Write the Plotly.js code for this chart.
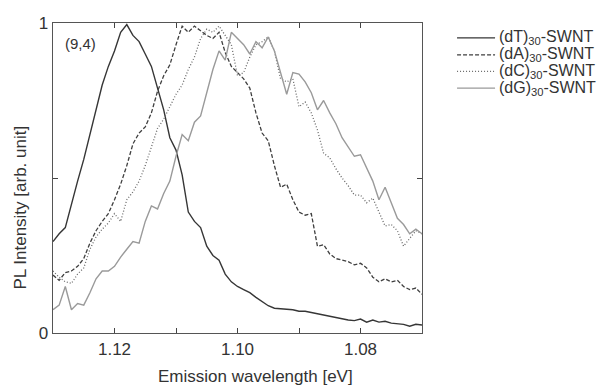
<!DOCTYPE html>
<html>
<head>
<meta charset="utf-8">
<script src="https://cdn.plot.ly/plotly-3.0.1.min.js"></script>
<style>html,body{margin:0;padding:0;background:#fff;}#chart{width:597px;height:385px;}</style>
</head>
<body>
<div id="chart"></div>
<script>
// Emission energy grid (eV), from 1.130 down to 1.070 in 0.001 steps
var energy = [1.130,1.129,1.128,1.127,1.126,1.125,1.124,1.123,1.122,1.121,
              1.120,1.119,1.118,1.117,1.116,1.115,1.114,1.113,1.112,1.111,
              1.110,1.109,1.108,1.107,1.106,1.105,1.104,1.103,1.102,1.101,
              1.100,1.099,1.098,1.097,1.096,1.095,1.094,1.093,1.092,1.091,
              1.090,1.089,1.088,1.087,1.086,1.085,1.084,1.083,1.082,1.081,
              1.080,1.079,1.078,1.077,1.076,1.075,1.074,1.073,1.072,1.071,1.070];

var dT = [0.295,0.32,0.34,0.42,0.49,0.56,0.64,0.72,0.80,0.86,
          0.91,0.97,0.995,0.96,0.94,0.90,0.86,0.79,0.72,0.63,
          0.59,0.51,0.39,0.36,0.34,0.28,0.25,0.235,0.19,0.165,
          0.15,0.14,0.13,0.115,0.10,0.088,0.08,0.078,0.077,0.075,
          0.07,0.07,0.066,0.062,0.056,0.052,0.05,0.045,0.042,0.04,
          0.045,0.035,0.042,0.035,0.038,0.032,0.03,0.028,0.022,0.028,0.026];

var dA = [0.187,0.17,0.195,0.20,0.215,0.24,0.29,0.33,0.36,0.385,
          0.43,0.48,0.54,0.61,0.645,0.665,0.71,0.78,0.83,0.865,
          0.93,0.99,0.97,0.99,0.975,0.96,0.95,0.97,0.905,0.86,
          0.84,0.82,0.79,0.71,0.645,0.62,0.54,0.47,0.48,0.43,
          0.39,0.38,0.385,0.28,0.285,0.255,0.24,0.235,0.23,0.22,
          0.225,0.21,0.18,0.165,0.175,0.165,0.17,0.15,0.14,0.145,0.125];

var dC = [0.20,0.18,0.165,0.16,0.19,0.21,0.27,0.31,0.335,0.355,
          0.385,0.36,0.43,0.455,0.49,0.54,0.60,0.66,0.69,0.73,
          0.77,0.80,0.85,0.89,0.95,0.98,0.97,0.99,0.96,0.93,
          0.83,0.84,0.89,0.93,0.94,0.955,0.91,0.82,0.81,0.82,
          0.73,0.745,0.71,0.655,0.58,0.565,0.53,0.50,0.475,0.445,
          0.445,0.42,0.435,0.39,0.345,0.35,0.33,0.28,0.305,0.33,0.32];

var dG = [0.075,0.09,0.15,0.075,0.095,0.09,0.13,0.175,0.20,0.20,
          0.215,0.245,0.27,0.295,0.29,0.36,0.41,0.40,0.45,0.49,
          0.57,0.64,0.62,0.68,0.70,0.78,0.85,0.91,0.88,0.97,
          0.95,0.93,0.90,0.94,0.92,0.955,0.91,0.84,0.77,0.84,
          0.835,0.81,0.775,0.72,0.75,0.71,0.675,0.63,0.60,0.57,
          0.575,0.53,0.49,0.43,0.47,0.42,0.37,0.35,0.32,0.335,0.32];

var seriesNames = ['(dT)<sub>30</sub>-SWNT','(dA)<sub>30</sub>-SWNT','(dC)<sub>30</sub>-SWNT','(dG)<sub>30</sub>-SWNT'];
var xTickVals = [1.12,1.11,1.10,1.09,1.08];
var xTickText = ['1.12','','1.10','','1.08'];
var yTickVals = [0,0.5,1];
var yTickText = ['0','','1'];

var seriesData = [dT, dA, dC, dG];
var styles = [
  {color:'#363636', dash:'solid', width:1.4},
  {color:'#3f3f3f', dash:'4px,2px', width:1.3},
  {color:'#6a6a6a', dash:'1px,2px', width:1.3},
  {color:'#9a9a9a', dash:'solid', width:1.4}
];

var traces = seriesData.map(function(v,i){
  return {x: energy, y: v, type:'scatter', mode:'lines', name: seriesNames[i], showlegend:false,
          line: {color: styles[i].color, dash: styles[i].dash, width: styles[i].width}};
});

// Hand-drawn legend (rows in paper coordinates)
var legendRowY = [0.952, 0.897, 0.844, 0.790];
var shapes = [], annotations = [];
legendRowY.forEach(function(yy,i){
  shapes.push({type:'line', xref:'paper', yref:'paper', x0:1.095, x1:1.198, y0:yy, y1:yy,
               line:{color:styles[i].color, dash:styles[i].dash, width:1.2}});
  annotations.push({xref:'paper', yref:'paper', x:1.203, y:yy, xanchor:'left', yanchor:'middle',
                    text:seriesNames[i], showarrow:false, font:{size:16, color:'#333'}});
});
annotations.push({xref:'paper', yref:'paper', x:0.027, y:0.935, xanchor:'left', yanchor:'middle',
                  text:'(9,4)', showarrow:false, font:{size:15, color:'#333'}});
annotations.push({xref:'paper', yref:'paper', x:0.549, y:-0.139, xanchor:'center', yanchor:'middle',
                  text:'Emission wavelength [eV]', showarrow:false, font:{size:17, color:'#333'}});
annotations.push({xref:'paper', yref:'paper', x:-0.089, y:0.405, xanchor:'center', yanchor:'middle',
                  textangle:-90, text:'PL Intensity [arb. unit]', showarrow:false, font:{size:17, color:'#333'}});

var fontFam = 'Liberation Sans, Arial, sans-serif';
var layout = {
  width:597, height:385,
  margin:{l:53, r:175, t:23, b:52},
  paper_bgcolor:'#fff', plot_bgcolor:'#fff',
  font:{family:fontFam, color:'#333', size:14},
  showlegend:false,
  xaxis:{range:[1.130,1.070], tickmode:'array', tickvals:xTickVals, ticktext:xTickText,
         ticks:'inside', ticklen:5, tickcolor:'#444', showline:true, linecolor:'#555', linewidth:1.3,
         mirror:'ticks', showgrid:false, zeroline:false, tickfont:{size:17}},
  yaxis:{range:[0,1], tickmode:'array', tickvals:yTickVals, ticktext:yTickText,
         ticks:'inside', ticklen:5, tickcolor:'#444', showline:true, linecolor:'#555', linewidth:1.3,
         mirror:'ticks', showgrid:false, zeroline:false, tickfont:{size:17}},
  shapes: shapes,
  annotations: annotations
};

Plotly.newPlot('chart', traces, layout, {displayModeBar:false, staticPlot:true});
</script>
</body>
</html>
